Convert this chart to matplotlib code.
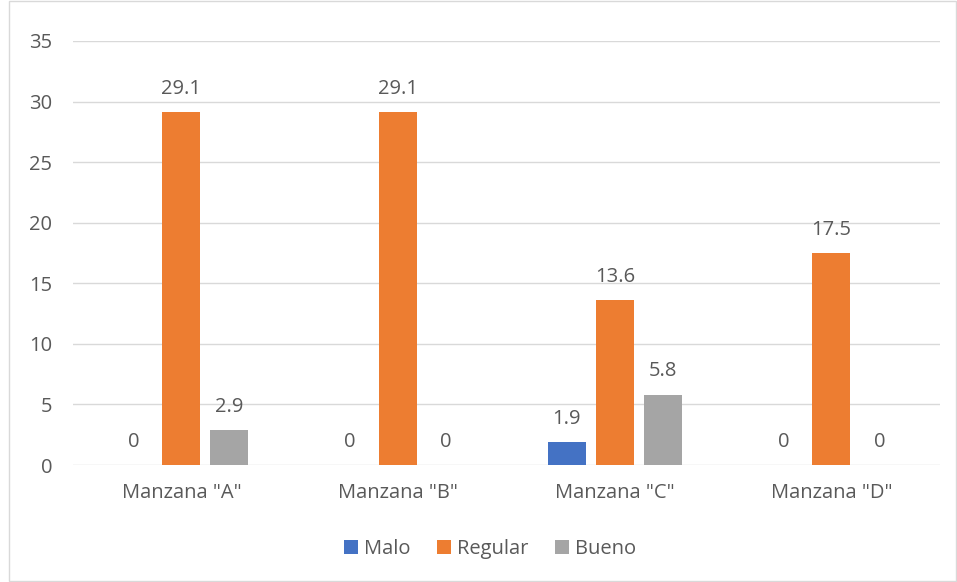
import matplotlib
matplotlib.use("Agg")
import matplotlib.pyplot as plt
import numpy as np
from matplotlib.patches import Rectangle

categories = ['Manzana "A"', 'Manzana "B"', 'Manzana "C"', 'Manzana "D"']
series_names = ["Malo", "Regular", "Bueno"]
malo = [0, 0, 1.9, 0]
regular = [29.1, 29.1, 13.6, 17.5]
bueno = [2.9, 0, 5.8, 0]
colors = ["#4472C4", "#ED7D31", "#A5A5A5"]
yticks = [0, 5, 10, 15, 20, 25, 30, 35]

plt.rcParams['font.family'] = ['Open Sans', 'DejaVu Sans']
txt = "#595959"
fs = 14.5

fig = plt.figure(figsize=(9.57, 5.82), dpi=100)
ax = fig.add_axes([0.0763, 0.201, 0.9057, 0.7286])

x = np.arange(len(categories))
w = 0.175
step = 0.2215
for i, (vals, name, c) in enumerate(zip([malo, regular, bueno], series_names, colors)):
    pos = x + (i - 1) * step
    ax.bar(pos, vals, w, color=c, label=name, zorder=3)
    for p, v in zip(pos, vals):
        lab = f"{v:g}" if v != 0 else "0"
        ax.text(p, v + 1.1, lab, ha="center", va="bottom", fontsize=fs, color=txt)

ax.set_xlim(-0.5, 3.5)
ax.set_ylim(0, 35)
ax.set_yticks(yticks)
ax.set_xticks(x)
ax.set_xticklabels(categories)
ax.tick_params(axis="both", length=0, labelsize=fs, labelcolor=txt)
ax.tick_params(axis="y", pad=15)
ax.tick_params(axis="x", pad=13)
ax.grid(axis="y", color="#D9D9D9", linewidth=1, zorder=0)
for s in ax.spines.values():
    s.set_visible(False)

leg = fig.legend(loc="center", bbox_to_anchor=(0.512, 0.057), ncol=3, frameon=False,
                 fontsize=fs, handlelength=0.7, handleheight=0.7, handletextpad=0.3,
                 columnspacing=1.3)
for t in leg.get_texts():
    t.set_color(txt)

fig.patches.append(Rectangle((0.009, 0.002), 0.99, 0.997, transform=fig.transFigure,
                             fill=False, edgecolor="#D9D9D9", linewidth=1))
fig.savefig("out.png", dpi=100)
